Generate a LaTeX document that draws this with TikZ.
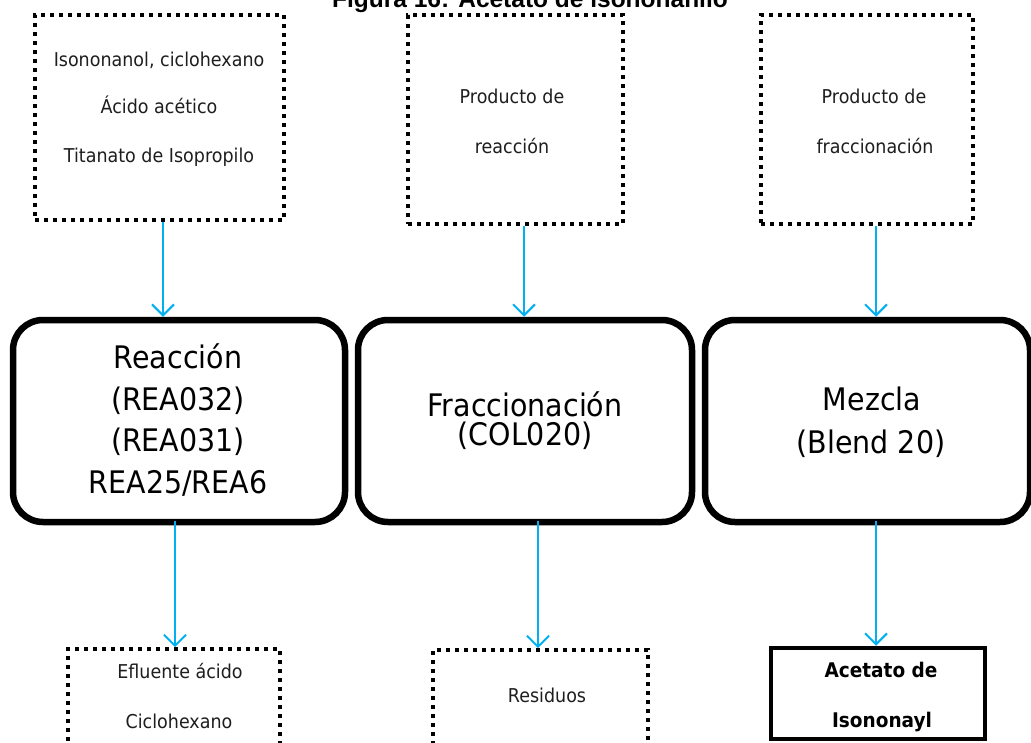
\documentclass[tikz,border=0pt]{standalone}
\usepackage{graphicx}
\usepackage{fontspec}
\setmainfont{DejaVu Sans}
\newfontfamily\titlefont{Liberation Sans}
\usetikzlibrary{arrows.meta}
\definecolor{flowblue}{RGB}{0,176,240}
\definecolor{ink}{RGB}{30,30,30}
% text is set slightly taller than wide
\newcommand\tallbox[1]{\scalebox{1}[1.09]{#1}}
\begin{document}
\begin{tikzpicture}[x=1pt,y=-1pt,
  dotbox/.style={draw=black, line width=3.8pt, dash pattern=on 3.8pt off 5.2pt, minimum width=#1},
  unitbox/.style={draw=black, line width=6.5pt, rounded corners=30pt, fill=white},
  prodbox/.style={draw=black, line width=4.5pt},
  flow/.style={draw=flowblue, line width=2pt, -{Straight Barb[length=11pt,width=22pt,line width=2pt]}},
  small/.style={font=\fontsize{17.5}{20}\selectfont, text=ink, anchor=base, inner sep=0pt},
  big/.style={font=\fontsize{28.5}{32}\selectfont, text=black, anchor=base, inner sep=0pt},
  bold/.style={font=\fontsize{18.5}{21}\selectfont\bfseries, text=black, anchor=base, inner sep=0pt}]
\useasboundingbox (0,0) rectangle (1031,742);
\begin{scope}
\clip (0,0) rectangle (1031,742);
\fill[white] (0,0) rectangle (1031,742);

% title line
\node[font=\titlefont\fontsize{24.5}{28}\selectfont\bfseries, anchor=base, inner sep=0pt] (title) at (530,7) {Figura 16: Acetato de isononanilo};

% input boxes
\node[dotbox=249pt, minimum height=205pt] (in1) at (159.5,117.5) {};
\node[dotbox=215pt, minimum height=209pt] (in2) at (515.5,119.5) {};
\node[dotbox=212pt, minimum height=209pt] (in3) at (867,119.5) {};

\node[small] (in1a) at (159,66) {\tallbox{Isononanol, ciclohexano}};
\node[small] (in1b) at (159,113) {\tallbox{Ácido acético}};
\node[small] (in1c) at (159,162) {\tallbox{Titanato de Isopropilo}};
\node[small] (in2a) at (512,103) {\tallbox{Producto de}};
\node[small] (in2b) at (512,153) {\tallbox{reacción}};
\node[small] (in3a) at (874,103) {\tallbox{Producto de}};
\node[small] (in3b) at (875,153) {\tallbox{fraccionación}};

% process units
\node[unitbox, minimum width=332pt, minimum height=202pt] (u1) at (179,421) {};
\node[unitbox, minimum width=334pt, minimum height=202pt] (u2) at (525,421) {};
\node[unitbox, minimum width=325pt, minimum height=202pt] (u3) at (867.5,421) {};

\node[big] (u1a) at (178,368) {\tallbox{Reacción}};
\node[big] (u1b) at (178,410) {\tallbox{(REA032)}};
\node[big] (u1c) at (178,451) {\tallbox{(REA031)}};
\node[big] (u1d) at (178,493) {\tallbox{REA25/REA6}};
\node[big] (u2a) at (525,416) {\tallbox{Fraccionación}};
\node[big] (u2b) at (525,445) {\tallbox{(COL020)}};
\node[big] (u3a) at (872,410) {\tallbox{Mezcla}};
\node[big] (u3b) at (871,453) {\tallbox{(Blend 20)}};

% outputs
\node[dotbox=212pt, minimum height=100pt] (out1) at (174,699) {};
\node[dotbox=215pt, minimum height=100pt] (out2) at (540.5,700) {};
\node[prodbox, minimum width=214pt, minimum height=91pt] (out3) at (878,693.5) {};

\node[small] (out1a) at (180,678) {\tallbox{Efluente ácido}};
\node[small] (out1b) at (179,728) {\tallbox{Ciclohexano}};
\node[small] (out2a) at (547,702) {\tallbox{Residuos}};
\node[bold] (out3a) at (881,677) {\tallbox{Acetato de}};
\node[bold] (out3b) at (882,727) {\tallbox{Isononayl}};

% streams
\draw[flow] ([xshift=3.5pt]in1.south) -- ([xshift=3.5pt]in1.south |- u1.north);
\draw[flow] ([xshift=8.5pt]in2.south) -- ([xshift=8.5pt]in2.south |- u2.north);
\draw[flow] ([xshift=9pt]in3.south) -- ([xshift=9pt]in3.south |- u3.north);
\draw[flow] ([xshift=-4pt,yshift=4pt]u1.south) -- ([xshift=-4pt]u1.south |- out1.north);
\draw[flow] ([xshift=13pt,yshift=4pt]u2.south) -- ([xshift=13pt]u2.south |- out2.north);
\draw[flow] ([xshift=8.5pt,yshift=4pt]u3.south) -- ([xshift=8.5pt]u3.south |- out3.north);
\end{scope}
\end{tikzpicture}
\end{document}
